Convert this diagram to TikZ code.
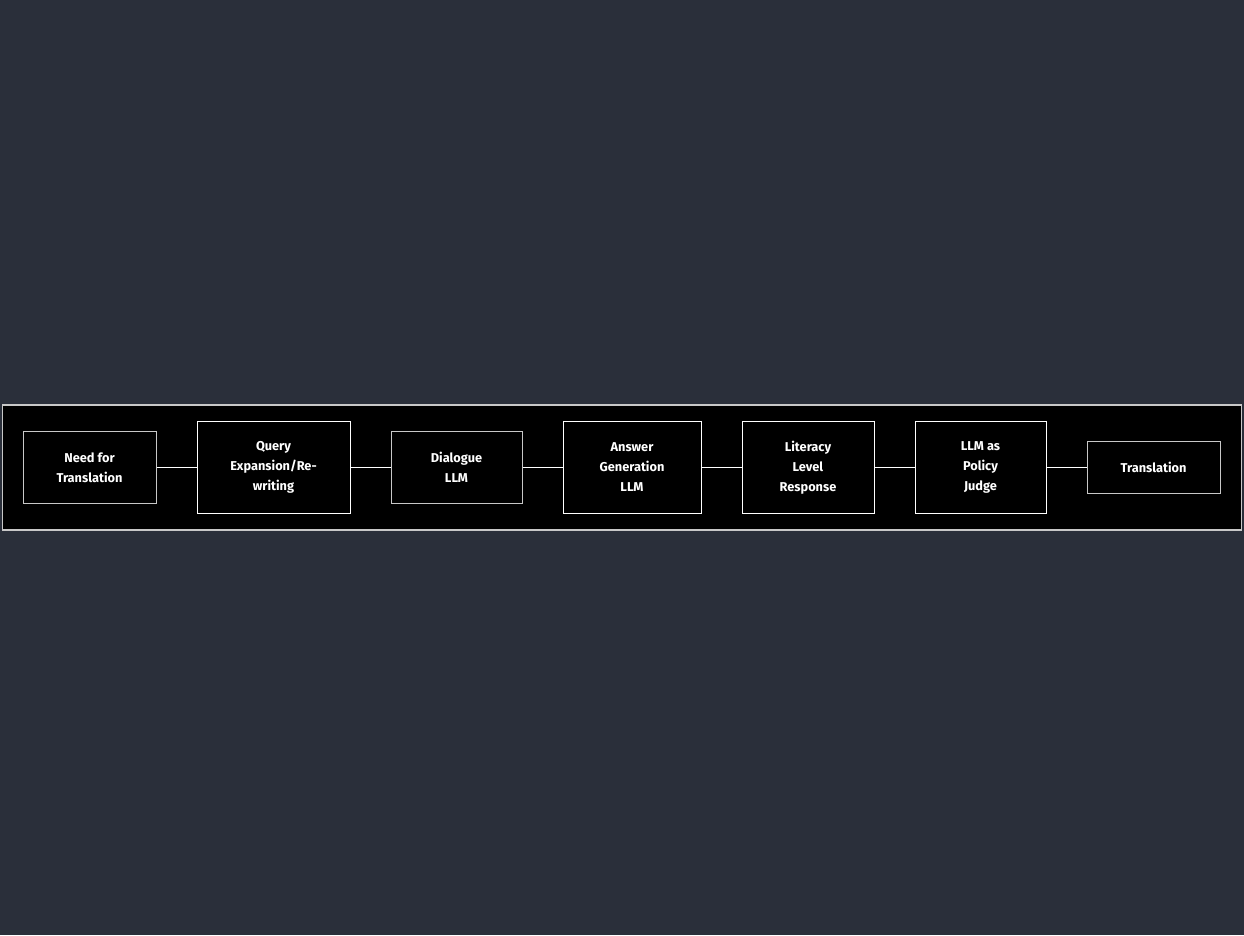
\documentclass[tikz,border=0pt]{standalone}
\usepackage{fontspec}
\setmainfont{Fira Sans}
\definecolor{canvas}{HTML}{2A2F3A}
\definecolor{rimgray}{HTML}{C8C8C8}
\tikzset{
  stage/.style={rectangle, draw=rimgray, fill=black, text=white, align=center,
    inner sep=0pt, font=\fontsize{12.8}{20}\selectfont\bfseries, line width=1pt},
  tallstage/.style={stage, draw=white},
  link/.style={white, line width=1pt}
}
\begin{document}
\begin{tikzpicture}[x=1pt, y=-1pt]
  \fill[canvas] (0,0) rectangle (1244,935);
  \draw[rimgray, fill=black, line width=1.5pt] (2.5,405) rectangle (1241.5,530);

  \node[stage, minimum width=133pt, minimum height=72pt] (need) at (89.5,467.5) {Need for\\Translation};
  \node[tallstage, minimum width=153pt, minimum height=92pt] (query) at (273.5,467.5) {Query\\Expansion/Re-\\writing};
  \node[stage, minimum width=131pt, minimum height=72pt] (dialog) at (456.5,467.5) {Dialogue\\LLM};
  \node[tallstage, minimum width=138pt, minimum height=92pt] (answer) at (632,467.5) {Answer\\Generation\\LLM};
  \node[tallstage, minimum width=132pt, minimum height=92pt] (literacy) at (808,467.5) {Literacy\\Level\\Response};
  \node[tallstage, minimum width=131pt, minimum height=92pt] (judge) at (980.5,467.5) {LLM as\\Policy\\Judge};
  \node[stage, minimum width=133pt, minimum height=52pt] (transl) at (1153.5,467.5) {Translation};

  \draw[link] (need) -- (query);
  \draw[link] (query) -- (dialog);
  \draw[link] (dialog) -- (answer);
  \draw[link] (answer) -- (literacy);
  \draw[link] (literacy) -- (judge);
  \draw[link] (judge) -- (transl);
\end{tikzpicture}
\end{document}
